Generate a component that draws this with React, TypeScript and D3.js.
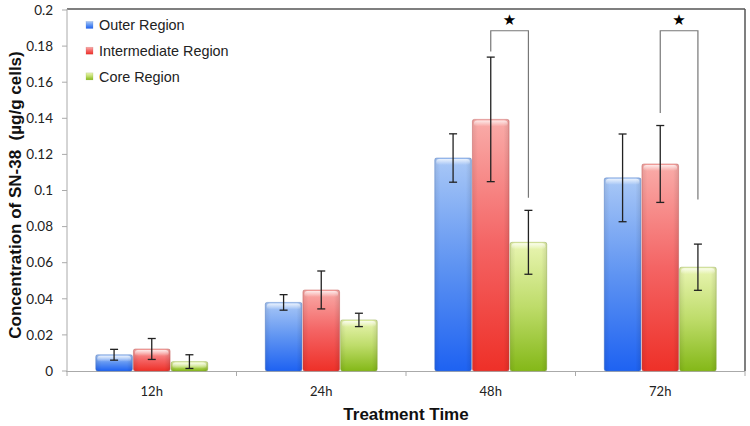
import React from 'react';
import * as d3 from 'd3';

const categories = ['12h', '24h', '48h', '72h'];
const seriesNames = ['Outer Region', 'Intermediate Region', 'Core Region'];
const outerValues = [0.009, 0.038, 0.118, 0.107];
const outerErrors = [0.003, 0.0043, 0.0134, 0.0243];
const intermediateValues = [0.0122, 0.0449, 0.1394, 0.1147];
const intermediateErrors = [0.0058, 0.0105, 0.0345, 0.0213];
const coreValues = [0.0052, 0.0283, 0.0713, 0.0575];
const coreErrors = [0.0038, 0.0037, 0.0177, 0.0128];
const yTicks = [0, 0.02, 0.04, 0.06, 0.08, 0.1, 0.12, 0.14, 0.16, 0.18, 0.2];

// significance brackets: between intermediate and core
const sigCategories = ['48h', '72h'];
const sigTop = [0.1885, 0.1885];
const sigLeftEnd = [0.177, 0.143];
const sigRightEnd = [0.096, 0.095];

const seriesValues = [outerValues, intermediateValues, coreValues];
const seriesErrors = [outerErrors, intermediateErrors, coreErrors];
// [top, middle, bottom, edge]
const palette = [
  ['#a9c8f6', '#5f94f2', '#1e62f2', '#3d6fc4'],
  ['#f9aca9', '#f46464', '#ee3028', '#c04a48'],
  ['#e9f5b2', '#bedc6a', '#84b818', '#8aa83a'],
];

const W = 750, H = 426;
const left = 67, right = 745, top = 10, bottom = 371;

const App = () => {
  const x = d3.scaleBand<string>().domain(categories).range([left, right]);
  const xs = d3.scaleBand<string>().domain(seriesNames).range([0, x.bandwidth()]).paddingOuter(0.75);
  const y = d3.scaleLinear().domain([0, 0.2]).range([bottom, top]);
  const fmt = (d: number) => String(+d.toFixed(2));
  const numFont = 'Lato, "Open Sans", sans-serif';
  const boldFont = '"Liberation Sans", Arial, sans-serif';

  return (
    <svg width={W} height={H} style={{ position: 'absolute', left: 0, top: 0, background: '#fff' }}>
      <defs>
        {palette.map((p, i) => (
          <linearGradient key={i} id={`g${i}`} x1="0" y1="0" x2="0" y2="1">
            <stop offset="0" stopColor={p[0]} />
            <stop offset="0.5" stopColor={p[1]} />
            <stop offset="1" stopColor={p[2]} />
          </linearGradient>
        ))}
        <linearGradient id="side" x1="0" y1="0" x2="1" y2="0">
          <stop offset="0" stopColor="#000" stopOpacity="0.08" />
          <stop offset="0.15" stopColor="#000" stopOpacity="0" />
          <stop offset="0.85" stopColor="#000" stopOpacity="0" />
          <stop offset="1" stopColor="#000" stopOpacity="0.1" />
        </linearGradient>
        <linearGradient id="gloss" x1="0" y1="0" x2="0" y2="1">
          <stop offset="0" stopColor="#fff" stopOpacity="0.75" />
          <stop offset="1" stopColor="#fff" stopOpacity="0" />
        </linearGradient>
      </defs>

      {/* plot frame */}
      <line x1={left} x2={right} y1={top - 1} y2={top - 1} stroke="#555" strokeWidth={1.5} />
      <line x1={right} x2={right} y1={top - 1} y2={bottom} stroke="#555" strokeWidth={1.5} />
      <line x1={left} x2={left} y1={top - 1} y2={bottom} stroke="#aaa" strokeWidth={1} />
      <line x1={left - 1} x2={right} y1={bottom + 0.5} y2={bottom + 0.5} stroke="#aaa" strokeWidth={1} />

      {/* y ticks */}
      {yTicks.map((t) => (
        <g key={t}>
          <line x1={left - 5} x2={left} y1={y(t)} y2={y(t)} stroke="#aaa" />
          <text x={53} y={y(t)} dy="0.35em" textAnchor="end" fontFamily={numFont} fontSize={13.5} fill="#222">
            {fmt(t)}
          </text>
        </g>
      ))}

      {/* x ticks */}
      {categories.concat(['end']).map((c, i) => {
        const xx = i < categories.length ? (x(c) as number) : right;
        return <line key={c} x1={xx} x2={xx} y1={bottom} y2={bottom + 5} stroke="#aaa" />;
      })}
      {categories.map((c) => (
        <text key={c} x={(x(c) as number) + x.bandwidth() / 2} y={396} textAnchor="middle"
          fontFamily={numFont} fontSize={13} fill="#222">{c}</text>
      ))}

      {/* bars */}
      {categories.map((c, ci) => (
        <g key={c}>
          {seriesNames.map((s, si) => {
            const bx = (x(c) as number) + (xs(s) as number);
            const bw = xs.bandwidth();
            const v = seriesValues[si][ci];
            const by = y(v);
            const bh = bottom - by;
            return (
              <g key={s}>
                <rect x={bx + 0.5} y={by} width={bw - 1} height={bh} rx={2} fill={`url(#g${si})`}
                  stroke={palette[si][3]} strokeOpacity={0.4} strokeWidth={1} />
                <rect x={bx + 0.5} y={by} width={bw - 1} height={bh} fill="url(#side)" />
                <rect x={bx + 2} y={by + 1} width={bw - 4} height={Math.min(6, bh - 1)} rx={3}
                  fill="url(#gloss)" />
              </g>
            );
          })}
        </g>
      ))}

      {/* error bars */}
      {categories.map((c, ci) => (
        <g key={c}>
          {seriesNames.map((s, si) => {
            const cx = (x(c) as number) + (xs(s) as number) + xs.bandwidth() / 2;
            const v = seriesValues[si][ci];
            const e = seriesErrors[si][ci];
            const y1 = y(v + e), y2 = y(v - e);
            return (
              <g key={s} stroke="#222" strokeWidth={1.3}>
                <line x1={cx} x2={cx} y1={y1} y2={y2} />
                <line x1={cx - 4} x2={cx + 4} y1={y1} y2={y1} />
                <line x1={cx - 4} x2={cx + 4} y1={y2} y2={y2} />
              </g>
            );
          })}
        </g>
      ))}

      {/* significance brackets */}
      {sigCategories.map((c, i) => {
        const x0 = x(c) as number;
        const lx = x0 + (xs(seriesNames[1]) as number) + xs.bandwidth() / 2;
        const rx = x0 + (xs(seriesNames[2]) as number) + xs.bandwidth() / 2;
        const ty = y(sigTop[i]);
        return (
          <g key={c}>
            <path d={`M${lx},${y(sigLeftEnd[i])}V${ty}H${rx}V${y(sigRightEnd[i])}`}
              fill="none" stroke="#777" strokeWidth={1.2} />
            <text x={(lx + rx) / 2} y={ty - 6} textAnchor="middle" fontFamily='"DejaVu Sans", sans-serif'
              fontSize={15} fill="#000">★</text>
          </g>
        );
      })}

      {/* legend */}
      {seriesNames.map((s, i) => (
        <g key={s} transform={`translate(86, ${25 + i * 25.7})`}>
          <rect x={0} y={-3.5} width={7} height={7} fill={`url(#g${i})`} stroke={palette[i][3]} strokeOpacity={0.4} strokeWidth={0.5} />
          <text x={13} y={0} dy="0.36em" fontFamily={boldFont} fontSize={14.4} fill="#222">{s}</text>
        </g>
      ))}

      {/* axis titles */}
      <text transform={`translate(21, 195) rotate(-90)`} textAnchor="middle"
        fontFamily={boldFont} fontWeight="bold" fontSize={17} fill="#111">
        {'Concentration of SN-38\u00A0 (µg/g cells)'}
      </text>
      <text x={(left + right) / 2} y={420} textAnchor="middle" fontFamily={boldFont} fontWeight="bold" fontSize={17} fill="#111">
        Treatment Time
      </text>
    </svg>
  );
};

export default App;
